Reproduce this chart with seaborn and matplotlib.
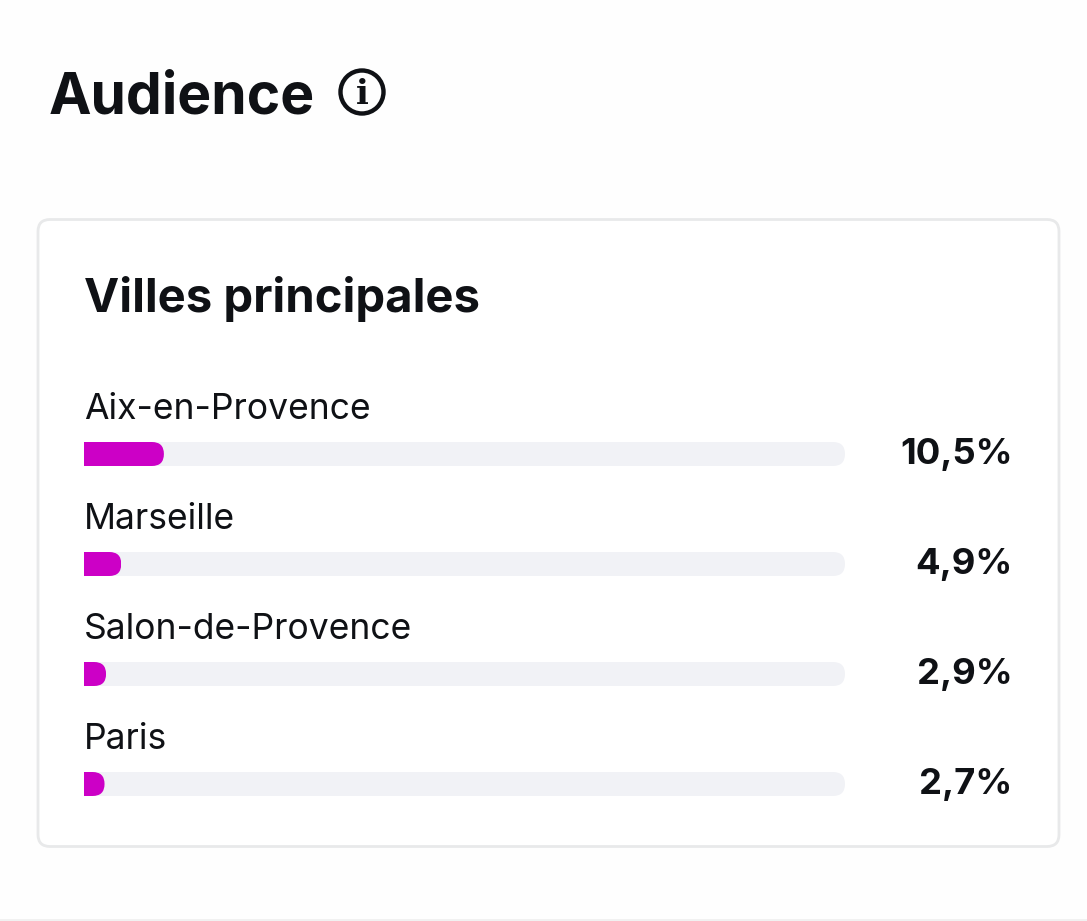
import matplotlib
matplotlib.use("Agg")
import matplotlib.pyplot as plt
import seaborn as sns
import pandas as pd
from matplotlib.patches import FancyBboxPatch, Circle
from matplotlib.path import Path
from matplotlib.lines import Line2D

# ---- data ----
title_text = "Audience"
card_title = "Villes principales"
cities = ["Aix-en-Provence", "Marseille", "Salon-de-Provence", "Paris"]
shares = [10.5, 4.9, 2.9, 2.7]
share_labels = ["10,5%", "4,9%", "2,9%", "2,7%"]
full_scale = [100, 100, 100, 100]

W, H = 1087, 921
INK = "#0F1115"
PINK = "#CC00C6"
TRACK = "#F1F2F6"
BORDER = "#E8E9EA"
BG = "#FEFEFE"
FONT = ["Inter", "DejaVu Sans"]

sns.set_theme(style="white")
plt.rcParams["font.family"] = FONT

dpi = 100
px = 72 / dpi
fig = plt.figure(figsize=(W / dpi, H / dpi), dpi=dpi, facecolor=BG)

# pixel-space overlay for the page furniture
bg = fig.add_axes([0, 0, 1, 1])
bg.set_xlim(0, W)
bg.set_ylim(H, 0)
bg.axis("off")
bg.text(49, 113, title_text, fontsize=57 * px, fontweight="bold", color=INK, va="baseline", ha="left")
bg.add_patch(Circle((362, 92), 21.5, fc="none", ec=INK, lw=4.4 * px))
bg.text(362, 104, "i", fontsize=34 * px, fontweight="bold", family=["DejaVu Serif"], color=INK, ha="center", va="baseline")
bg.add_patch(FancyBboxPatch((38, 219.5), 1021, 627, boxstyle="round,pad=0,rounding_size=12",
                            fc="#FFFFFF", ec=BORDER, lw=2.8 * px))
bg.text(84.5, 312, card_title, fontsize=47.2 * px, fontweight="bold", color=INK, va="baseline", ha="left")
bg.add_line(Line2D([0, W], [919.5, 919.5], color="#EDEDED", lw=1.5 * px))

# bar chart: 0-100 % track spans the full axes width
left, right, top, bottom = 84, 845, 399, 839
ax = fig.add_axes([left / W, 1 - bottom / H, (right - left) / W, (bottom - top) / H])
ax.patch.set_alpha(0)
df = pd.DataFrame({"city": cities, "share": shares, "full": full_scale})
bar_w = 24 / 110
sns.barplot(data=df, x="full", y="city", color=TRACK, saturation=1, width=bar_w, ax=ax, linewidth=0)
sns.barplot(data=df, x="share", y="city", color=PINK, saturation=1, width=bar_w, ax=ax, linewidth=0)
ax.set_xlim(0, 100)
ax.set_ylim(3.5, -0.5)
ax.set_xlabel("")
ax.set_ylabel("")
ax.set_xticks([])
ax.set_yticks([])
sns.despine(ax=ax, left=True, bottom=True)

# round the right-hand end of every bar with a clip path
rx = 12 / 7.61
ry = 12 / 110
for bar in ax.patches:
    x0, y0 = bar.get_x(), bar.get_y()
    x1, y1 = x0 + bar.get_width(), y0 + bar.get_height()
    verts = [(x0, y0), (x1 - rx, y0), (x1, y0), (x1, y0 + ry), (x1, y1 - ry), (x1, y1),
             (x1 - rx, y1), (x0, y1), (x0, y0)]
    codes = [Path.MOVETO, Path.LINETO, Path.CURVE3, Path.CURVE3, Path.LINETO, Path.CURVE3,
             Path.CURVE3, Path.LINETO, Path.CLOSEPOLY]
    bar.set_clip_path(Path(verts, codes), ax.transData)

for i, (city, lab) in enumerate(zip(cities, share_labels)):
    ax.annotate(city, xy=(0, i), xycoords=ax.get_yaxis_transform(), xytext=(0 * px, 35 * px),
                textcoords="offset points", fontsize=35.5 * px, color=INK, ha="left", va="baseline",
                annotation_clip=False)
    ax.annotate(lab, xy=(1, i), xycoords=ax.get_yaxis_transform(), xytext=(167.5 * px, -10 * px),
                textcoords="offset points", fontsize=36.5 * px, fontweight="bold", color=INK,
                ha="right", va="baseline", annotation_clip=False)

fig.savefig("out.png", dpi=dpi, facecolor=BG)
